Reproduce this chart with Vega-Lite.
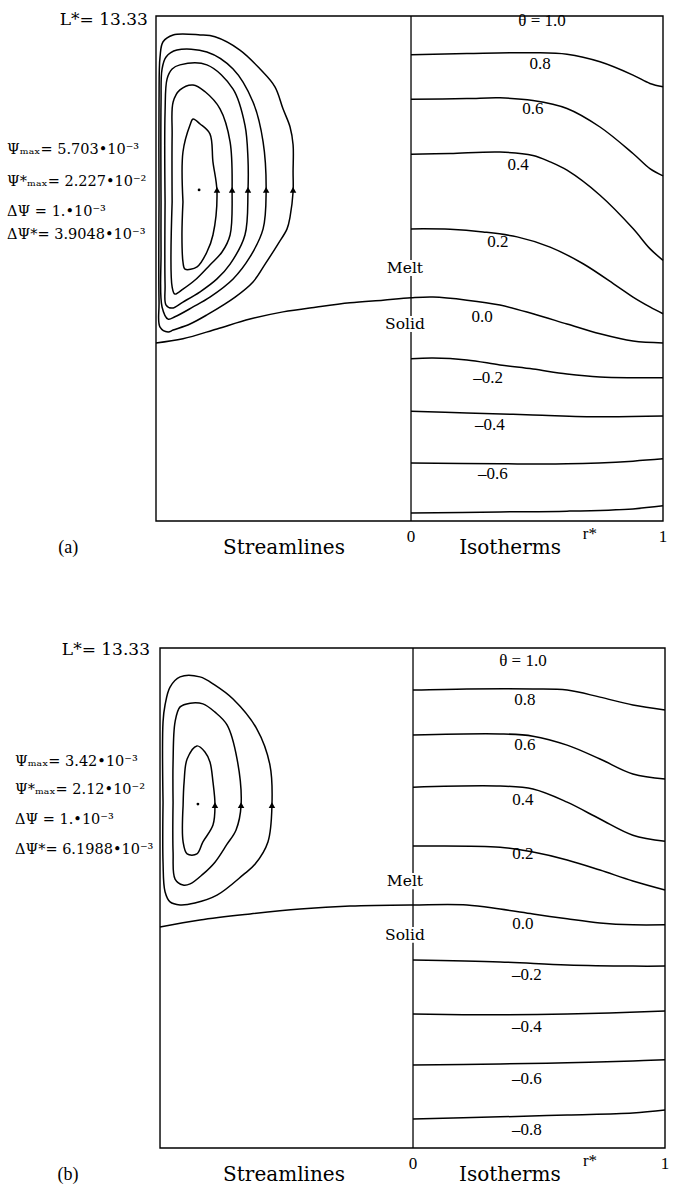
{
  "$schema": "https://vega.github.io/schema/vega-lite/v6.json",
  "padding": {"left": 7, "top": 10, "right": 0, "bottom": 0},
  "background": "white",
  "config": {"view": {"stroke": null}},
  "spacing": 127,
  "bounds": "flush",
  "datasets": {
    "frames": [
      {"p": "a", "x": -1.012, "x2": 1.0, "z": 0, "z2": 13.33},
      {"p": "b", "x": -1.008, "x2": 1.004, "z": 0, "z2": 13.33}
    ],
    "divider": [
      {"p": "a", "x": 0, "z": 0, "z2": 4.99},
      {"p": "a", "x": 0, "z": 5.41, "z2": 6.47},
      {"p": "a", "x": 0, "z": 6.89, "z2": 13.33},
      {"p": "b", "x": 0, "z": 0, "z2": 5.47},
      {"p": "b", "x": 0, "z": 5.89, "z2": 6.9},
      {"p": "b", "x": 0, "z": 7.33, "z2": 13.33}
    ],
    "curves": [
      {"p":"a","c":"s5","i":0,"x":-1.0,"z":8.42},
      {"p":"a","c":"s5","i":1,"x":-1.0,"z":11.06},
      {"p":"a","c":"s5","i":2,"x":-0.996,"z":12.25},
      {"p":"a","c":"s5","i":3,"x":-0.984,"z":12.65},
      {"p":"a","c":"s5","i":4,"x":-0.944,"z":12.83},
      {"p":"a","c":"s5","i":5,"x":-0.837,"z":12.83},
      {"p":"a","c":"s5","i":6,"x":-0.778,"z":12.78},
      {"p":"a","c":"s5","i":7,"x":-0.679,"z":12.43},
      {"p":"a","c":"s5","i":8,"x":-0.599,"z":11.93},
      {"p":"a","c":"s5","i":9,"x":-0.54,"z":11.46},
      {"p":"a","c":"s5","i":10,"x":-0.508,"z":10.88},
      {"p":"a","c":"s5","i":11,"x":-0.48,"z":10.4},
      {"p":"a","c":"s5","i":12,"x":-0.468,"z":9.93},
      {"p":"a","c":"s5","i":13,"x":-0.468,"z":9.21},
      {"p":"a","c":"s5","i":14,"x":-0.468,"z":8.69},
      {"p":"a","c":"s5","i":15,"x":-0.48,"z":8.03},
      {"p":"a","c":"s5","i":16,"x":-0.492,"z":7.71},
      {"p":"a","c":"s5","i":17,"x":-0.528,"z":7.31},
      {"p":"a","c":"s5","i":18,"x":-0.579,"z":6.78},
      {"p":"a","c":"s5","i":19,"x":-0.627,"z":6.31},
      {"p":"a","c":"s5","i":20,"x":-0.698,"z":5.91},
      {"p":"a","c":"s5","i":21,"x":-0.81,"z":5.44},
      {"p":"a","c":"s5","i":22,"x":-0.877,"z":5.2},
      {"p":"a","c":"s5","i":23,"x":-0.944,"z":5.04},
      {"p":"a","c":"s5","i":24,"x":-0.964,"z":4.99},
      {"p":"a","c":"s5","i":25,"x":-0.996,"z":5.12},
      {"p":"a","c":"s5","i":26,"x":-1.0,"z":5.78},
      {"p":"a","c":"s5","i":27,"x":-1.0,"z":8.42},

      {"p":"a","c":"s4","i":0,"x":-0.992,"z":8.42},
      {"p":"a","c":"s4","i":1,"x":-0.992,"z":11.06},
      {"p":"a","c":"s4","i":2,"x":-0.988,"z":11.93},
      {"p":"a","c":"s4","i":3,"x":-0.972,"z":12.25},
      {"p":"a","c":"s4","i":4,"x":-0.929,"z":12.43},
      {"p":"a","c":"s4","i":5,"x":-0.81,"z":12.38},
      {"p":"a","c":"s4","i":6,"x":-0.706,"z":11.93},
      {"p":"a","c":"s4","i":7,"x":-0.627,"z":11.06},
      {"p":"a","c":"s4","i":8,"x":-0.587,"z":10.01},
      {"p":"a","c":"s4","i":9,"x":-0.575,"z":8.69},
      {"p":"a","c":"s4","i":10,"x":-0.587,"z":7.71},
      {"p":"a","c":"s4","i":11,"x":-0.639,"z":6.97},
      {"p":"a","c":"s4","i":12,"x":-0.706,"z":6.39},
      {"p":"a","c":"s4","i":13,"x":-0.798,"z":5.91},
      {"p":"a","c":"s4","i":14,"x":-0.865,"z":5.65},
      {"p":"a","c":"s4","i":15,"x":-0.937,"z":5.39},
      {"p":"a","c":"s4","i":16,"x":-0.964,"z":5.33},
      {"p":"a","c":"s4","i":17,"x":-0.988,"z":5.65},
      {"p":"a","c":"s4","i":18,"x":-0.992,"z":7.1},
      {"p":"a","c":"s4","i":19,"x":-0.992,"z":8.42},

      {"p":"a","c":"s3","i":0,"x":-0.976,"z":8.42},
      {"p":"a","c":"s3","i":1,"x":-0.976,"z":10.8},
      {"p":"a","c":"s3","i":2,"x":-0.968,"z":11.67},
      {"p":"a","c":"s3","i":3,"x":-0.948,"z":11.93},
      {"p":"a","c":"s3","i":4,"x":-0.917,"z":12.04},
      {"p":"a","c":"s3","i":5,"x":-0.81,"z":12.04},
      {"p":"a","c":"s3","i":6,"x":-0.706,"z":11.4},
      {"p":"a","c":"s3","i":7,"x":-0.659,"z":10.45},
      {"p":"a","c":"s3","i":8,"x":-0.647,"z":9.56},
      {"p":"a","c":"s3","i":9,"x":-0.647,"z":8.69},
      {"p":"a","c":"s3","i":10,"x":-0.659,"z":7.55},
      {"p":"a","c":"s3","i":11,"x":-0.718,"z":6.78},
      {"p":"a","c":"s3","i":12,"x":-0.77,"z":6.39},
      {"p":"a","c":"s3","i":13,"x":-0.837,"z":6.05},
      {"p":"a","c":"s3","i":14,"x":-0.905,"z":5.78},
      {"p":"a","c":"s3","i":15,"x":-0.948,"z":5.62},
      {"p":"a","c":"s3","i":16,"x":-0.972,"z":5.7},
      {"p":"a","c":"s3","i":17,"x":-0.976,"z":6.23},
      {"p":"a","c":"s3","i":18,"x":-0.976,"z":8.42},

      {"p":"a","c":"s2","i":0,"x":-0.948,"z":8.42},
      {"p":"a","c":"s2","i":1,"x":-0.948,"z":10.19},
      {"p":"a","c":"s2","i":2,"x":-0.944,"z":11.06},
      {"p":"a","c":"s2","i":3,"x":-0.917,"z":11.38},
      {"p":"a","c":"s2","i":4,"x":-0.865,"z":11.51},
      {"p":"a","c":"s2","i":5,"x":-0.817,"z":11.33},
      {"p":"a","c":"s2","i":6,"x":-0.758,"z":10.88},
      {"p":"a","c":"s2","i":7,"x":-0.718,"z":10.01},
      {"p":"a","c":"s2","i":8,"x":-0.71,"z":8.69},
      {"p":"a","c":"s2","i":9,"x":-0.718,"z":7.55},
      {"p":"a","c":"s2","i":10,"x":-0.75,"z":7.1},
      {"p":"a","c":"s2","i":11,"x":-0.798,"z":6.76},
      {"p":"a","c":"s2","i":12,"x":-0.857,"z":6.36},
      {"p":"a","c":"s2","i":13,"x":-0.905,"z":6.12},
      {"p":"a","c":"s2","i":14,"x":-0.937,"z":5.99},
      {"p":"a","c":"s2","i":15,"x":-0.948,"z":6.18},
      {"p":"a","c":"s2","i":16,"x":-0.948,"z":8.42},

      {"p":"a","c":"s1","i":0,"x":-0.905,"z":8.42},
      {"p":"a","c":"s1","i":1,"x":-0.905,"z":9.74},
      {"p":"a","c":"s1","i":2,"x":-0.877,"z":10.45},
      {"p":"a","c":"s1","i":3,"x":-0.865,"z":10.61},
      {"p":"a","c":"s1","i":4,"x":-0.837,"z":10.48},
      {"p":"a","c":"s1","i":5,"x":-0.798,"z":10.22},
      {"p":"a","c":"s1","i":6,"x":-0.786,"z":9.48},
      {"p":"a","c":"s1","i":7,"x":-0.77,"z":8.69},
      {"p":"a","c":"s1","i":8,"x":-0.786,"z":7.55},
      {"p":"a","c":"s1","i":9,"x":-0.81,"z":7.1},
      {"p":"a","c":"s1","i":10,"x":-0.849,"z":6.71},
      {"p":"a","c":"s1","i":11,"x":-0.897,"z":6.65},
      {"p":"a","c":"s1","i":12,"x":-0.905,"z":6.84},
      {"p":"a","c":"s1","i":13,"x":-0.909,"z":7.55},
      {"p":"a","c":"s1","i":14,"x":-0.905,"z":8.42},

      {"p":"a","c":"t00","i":0,"x":-1.012,"z":4.7},
      {"p":"a","c":"t00","i":1,"x":-0.905,"z":4.81},
      {"p":"a","c":"t00","i":2,"x":-0.77,"z":5.07},
      {"p":"a","c":"t00","i":3,"x":-0.639,"z":5.33},
      {"p":"a","c":"t00","i":4,"x":-0.508,"z":5.52},
      {"p":"a","c":"t00","i":5,"x":-0.373,"z":5.65},
      {"p":"a","c":"t00","i":6,"x":-0.242,"z":5.76},
      {"p":"a","c":"t00","i":7,"x":-0.111,"z":5.83},
      {"p":"a","c":"t00","i":8,"x":0,"z":5.89},
      {"p":"a","c":"t00","i":9,"x":0.087,"z":5.91},
      {"p":"a","c":"t00","i":10,"x":0.222,"z":5.83},
      {"p":"a","c":"t00","i":11,"x":0.353,"z":5.7},
      {"p":"a","c":"t00","i":12,"x":0.484,"z":5.47},
      {"p":"a","c":"t00","i":13,"x":0.619,"z":5.2},
      {"p":"a","c":"t00","i":14,"x":0.75,"z":4.94},
      {"p":"a","c":"t00","i":15,"x":0.881,"z":4.75},
      {"p":"a","c":"t00","i":16,"x":1.0,"z":4.7},

      {"p":"a","c":"t08","i":0,"x":0,"z":12.31},
      {"p":"a","c":"t08","i":1,"x":0.222,"z":12.34},
      {"p":"a","c":"t08","i":2,"x":0.484,"z":12.36},
      {"p":"a","c":"t08","i":3,"x":0.619,"z":12.32},
      {"p":"a","c":"t08","i":4,"x":0.75,"z":12.12},
      {"p":"a","c":"t08","i":5,"x":0.881,"z":11.77},
      {"p":"a","c":"t08","i":6,"x":0.948,"z":11.55},
      {"p":"a","c":"t08","i":7,"x":1.0,"z":11.46},

      {"p":"a","c":"t06","i":0,"x":0,"z":11.13},
      {"p":"a","c":"t06","i":1,"x":0.222,"z":11.15},
      {"p":"a","c":"t06","i":2,"x":0.353,"z":11.17},
      {"p":"a","c":"t06","i":3,"x":0.484,"z":11.1},
      {"p":"a","c":"t06","i":4,"x":0.619,"z":10.89},
      {"p":"a","c":"t06","i":5,"x":0.75,"z":10.4},
      {"p":"a","c":"t06","i":6,"x":0.881,"z":9.7},
      {"p":"a","c":"t06","i":7,"x":0.948,"z":9.3},
      {"p":"a","c":"t06","i":8,"x":1.0,"z":9.11},

      {"p":"a","c":"t04","i":0,"x":0,"z":9.68},
      {"p":"a","c":"t04","i":1,"x":0.155,"z":9.7},
      {"p":"a","c":"t04","i":2,"x":0.353,"z":9.74},
      {"p":"a","c":"t04","i":3,"x":0.484,"z":9.65},
      {"p":"a","c":"t04","i":4,"x":0.552,"z":9.48},
      {"p":"a","c":"t04","i":5,"x":0.619,"z":9.26},
      {"p":"a","c":"t04","i":6,"x":0.75,"z":8.6},
      {"p":"a","c":"t04","i":7,"x":0.881,"z":7.72},
      {"p":"a","c":"t04","i":8,"x":0.948,"z":7.19},
      {"p":"a","c":"t04","i":9,"x":1.0,"z":6.88},

      {"p":"a","c":"t02","i":0,"x":0,"z":7.71},
      {"p":"a","c":"t02","i":1,"x":0.155,"z":7.7},
      {"p":"a","c":"t02","i":2,"x":0.286,"z":7.63},
      {"p":"a","c":"t02","i":3,"x":0.421,"z":7.5},
      {"p":"a","c":"t02","i":4,"x":0.552,"z":7.23},
      {"p":"a","c":"t02","i":5,"x":0.683,"z":6.79},
      {"p":"a","c":"t02","i":6,"x":0.817,"z":6.2},
      {"p":"a","c":"t02","i":7,"x":0.881,"z":5.91},
      {"p":"a","c":"t02","i":8,"x":0.948,"z":5.65},
      {"p":"a","c":"t02","i":9,"x":1.0,"z":5.47},

      {"p":"a","c":"tm02","i":0,"x":0,"z":4.28},
      {"p":"a","c":"tm02","i":1,"x":0.087,"z":4.3},
      {"p":"a","c":"tm02","i":2,"x":0.222,"z":4.25},
      {"p":"a","c":"tm02","i":3,"x":0.353,"z":4.12},
      {"p":"a","c":"tm02","i":4,"x":0.484,"z":4.01},
      {"p":"a","c":"tm02","i":5,"x":0.619,"z":3.88},
      {"p":"a","c":"tm02","i":6,"x":0.75,"z":3.8},
      {"p":"a","c":"tm02","i":7,"x":0.881,"z":3.78},
      {"p":"a","c":"tm02","i":8,"x":1.0,"z":3.78},

      {"p":"a","c":"tm04","i":0,"x":0,"z":2.9},
      {"p":"a","c":"tm04","i":1,"x":0.222,"z":2.85},
      {"p":"a","c":"tm04","i":2,"x":0.484,"z":2.8},
      {"p":"a","c":"tm04","i":3,"x":0.75,"z":2.75},
      {"p":"a","c":"tm04","i":4,"x":1.0,"z":2.77},

      {"p":"a","c":"tm06","i":0,"x":0,"z":1.53},
      {"p":"a","c":"tm06","i":1,"x":0.353,"z":1.51},
      {"p":"a","c":"tm06","i":2,"x":0.619,"z":1.51},
      {"p":"a","c":"tm06","i":3,"x":0.881,"z":1.58},
      {"p":"a","c":"tm06","i":4,"x":1.0,"z":1.64},

      {"p":"a","c":"tm08","i":0,"x":0,"z":0.21},
      {"p":"a","c":"tm08","i":1,"x":0.353,"z":0.24},
      {"p":"a","c":"tm08","i":2,"x":0.619,"z":0.26},
      {"p":"a","c":"tm08","i":3,"x":0.881,"z":0.32},
      {"p":"a","c":"tm08","i":4,"x":1.0,"z":0.4},

      {"p":"b","c":"s3","i":0,"x":-0.996,"z":9.22},
      {"p":"b","c":"s3","i":1,"x":-0.996,"z":11.36},
      {"p":"b","c":"s3","i":2,"x":-0.988,"z":11.81},
      {"p":"b","c":"s3","i":3,"x":-0.968,"z":12.29},
      {"p":"b","c":"s3","i":4,"x":-0.928,"z":12.56},
      {"p":"b","c":"s3","i":5,"x":-0.849,"z":12.56},
      {"p":"b","c":"s3","i":6,"x":-0.789,"z":12.34},
      {"p":"b","c":"s3","i":7,"x":-0.717,"z":11.97},
      {"p":"b","c":"s3","i":8,"x":-0.622,"z":11.17},
      {"p":"b","c":"s3","i":9,"x":-0.57,"z":10.21},
      {"p":"b","c":"s3","i":10,"x":-0.562,"z":9.14},
      {"p":"b","c":"s3","i":11,"x":-0.578,"z":8.16},
      {"p":"b","c":"s3","i":12,"x":-0.629,"z":7.57},
      {"p":"b","c":"s3","i":13,"x":-0.677,"z":7.28},
      {"p":"b","c":"s3","i":14,"x":-0.781,"z":6.74},
      {"p":"b","c":"s3","i":15,"x":-0.869,"z":6.53},
      {"p":"b","c":"s3","i":16,"x":-0.928,"z":6.48},
      {"p":"b","c":"s3","i":17,"x":-0.968,"z":6.56},
      {"p":"b","c":"s3","i":18,"x":-0.988,"z":6.83},
      {"p":"b","c":"s3","i":19,"x":-0.996,"z":7.62},
      {"p":"b","c":"s3","i":20,"x":-0.996,"z":9.22},

      {"p":"b","c":"s2","i":0,"x":-0.956,"z":9.22},
      {"p":"b","c":"s2","i":1,"x":-0.956,"z":10.29},
      {"p":"b","c":"s2","i":2,"x":-0.948,"z":11.36},
      {"p":"b","c":"s2","i":3,"x":-0.928,"z":11.76},
      {"p":"b","c":"s2","i":4,"x":-0.888,"z":11.86},
      {"p":"b","c":"s2","i":5,"x":-0.837,"z":11.84},
      {"p":"b","c":"s2","i":6,"x":-0.789,"z":11.62},
      {"p":"b","c":"s2","i":7,"x":-0.741,"z":11.28},
      {"p":"b","c":"s2","i":8,"x":-0.701,"z":10.37},
      {"p":"b","c":"s2","i":9,"x":-0.685,"z":9.14},
      {"p":"b","c":"s2","i":10,"x":-0.705,"z":8.48},
      {"p":"b","c":"s2","i":11,"x":-0.741,"z":8.1},
      {"p":"b","c":"s2","i":12,"x":-0.789,"z":7.62},
      {"p":"b","c":"s2","i":13,"x":-0.837,"z":7.3},
      {"p":"b","c":"s2","i":14,"x":-0.888,"z":7.04},
      {"p":"b","c":"s2","i":15,"x":-0.916,"z":7.01},
      {"p":"b","c":"s2","i":16,"x":-0.948,"z":7.17},
      {"p":"b","c":"s2","i":17,"x":-0.956,"z":7.89},
      {"p":"b","c":"s2","i":18,"x":-0.956,"z":9.22},

      {"p":"b","c":"s1","i":0,"x":-0.916,"z":9.14},
      {"p":"b","c":"s1","i":1,"x":-0.912,"z":9.76},
      {"p":"b","c":"s1","i":2,"x":-0.9,"z":10.37},
      {"p":"b","c":"s1","i":3,"x":-0.861,"z":10.72},
      {"p":"b","c":"s1","i":4,"x":-0.829,"z":10.56},
      {"p":"b","c":"s1","i":5,"x":-0.809,"z":10.29},
      {"p":"b","c":"s1","i":6,"x":-0.797,"z":9.76},
      {"p":"b","c":"s1","i":7,"x":-0.789,"z":9.14},
      {"p":"b","c":"s1","i":8,"x":-0.797,"z":8.61},
      {"p":"b","c":"s1","i":9,"x":-0.837,"z":8.16},
      {"p":"b","c":"s1","i":10,"x":-0.861,"z":7.84},
      {"p":"b","c":"s1","i":11,"x":-0.9,"z":7.84},
      {"p":"b","c":"s1","i":12,"x":-0.916,"z":8.16},
      {"p":"b","c":"s1","i":13,"x":-0.916,"z":9.14},

      {"p":"b","c":"t00","i":0,"x":-1.008,"z":5.89},
      {"p":"b","c":"t00","i":1,"x":-0.849,"z":6.08},
      {"p":"b","c":"t00","i":2,"x":-0.649,"z":6.24},
      {"p":"b","c":"t00","i":3,"x":-0.45,"z":6.37},
      {"p":"b","c":"t00","i":4,"x":-0.251,"z":6.45},
      {"p":"b","c":"t00","i":5,"x":0,"z":6.48},
      {"p":"b","c":"t00","i":6,"x":0.215,"z":6.48},
      {"p":"b","c":"t00","i":7,"x":0.347,"z":6.37},
      {"p":"b","c":"t00","i":8,"x":0.478,"z":6.24},
      {"p":"b","c":"t00","i":9,"x":0.614,"z":6.11},
      {"p":"b","c":"t00","i":10,"x":0.745,"z":6.0},
      {"p":"b","c":"t00","i":11,"x":0.876,"z":5.95},
      {"p":"b","c":"t00","i":12,"x":1.004,"z":5.95},

      {"p":"b","c":"t08","i":0,"x":0,"z":12.21},
      {"p":"b","c":"t08","i":1,"x":0.215,"z":12.24},
      {"p":"b","c":"t08","i":2,"x":0.478,"z":12.24},
      {"p":"b","c":"t08","i":3,"x":0.614,"z":12.21},
      {"p":"b","c":"t08","i":4,"x":0.745,"z":12.02},
      {"p":"b","c":"t08","i":5,"x":0.876,"z":11.81},
      {"p":"b","c":"t08","i":6,"x":1.004,"z":11.68},

      {"p":"b","c":"t06","i":0,"x":0,"z":11.01},
      {"p":"b","c":"t06","i":1,"x":0.347,"z":11.04},
      {"p":"b","c":"t06","i":2,"x":0.478,"z":10.98},
      {"p":"b","c":"t06","i":3,"x":0.614,"z":10.74},
      {"p":"b","c":"t06","i":4,"x":0.745,"z":10.37},
      {"p":"b","c":"t06","i":5,"x":0.876,"z":9.97},
      {"p":"b","c":"t06","i":6,"x":1.004,"z":9.84},

      {"p":"b","c":"t04","i":0,"x":0,"z":9.62},
      {"p":"b","c":"t04","i":1,"x":0.347,"z":9.65},
      {"p":"b","c":"t04","i":2,"x":0.478,"z":9.57},
      {"p":"b","c":"t04","i":3,"x":0.614,"z":9.22},
      {"p":"b","c":"t04","i":4,"x":0.745,"z":8.77},
      {"p":"b","c":"t04","i":5,"x":0.876,"z":8.34},
      {"p":"b","c":"t04","i":6,"x":1.004,"z":8.18},

      {"p":"b","c":"t02","i":0,"x":0,"z":8.05},
      {"p":"b","c":"t02","i":1,"x":0.347,"z":8.02},
      {"p":"b","c":"t02","i":2,"x":0.478,"z":7.89},
      {"p":"b","c":"t02","i":3,"x":0.614,"z":7.68},
      {"p":"b","c":"t02","i":4,"x":0.745,"z":7.41},
      {"p":"b","c":"t02","i":5,"x":0.876,"z":7.12},
      {"p":"b","c":"t02","i":6,"x":1.004,"z":6.88},

      {"p":"b","c":"tm02","i":0,"x":0,"z":5.01},
      {"p":"b","c":"tm02","i":1,"x":0.347,"z":4.96},
      {"p":"b","c":"tm02","i":2,"x":0.614,"z":4.88},
      {"p":"b","c":"tm02","i":3,"x":0.876,"z":4.85},
      {"p":"b","c":"tm02","i":4,"x":1.004,"z":4.85},

      {"p":"b","c":"tm04","i":0,"x":0,"z":3.57},
      {"p":"b","c":"tm04","i":1,"x":0.347,"z":3.55},
      {"p":"b","c":"tm04","i":2,"x":0.614,"z":3.57},
      {"p":"b","c":"tm04","i":3,"x":1.004,"z":3.65},

      {"p":"b","c":"tm06","i":0,"x":0,"z":2.21},
      {"p":"b","c":"tm06","i":1,"x":0.347,"z":2.24},
      {"p":"b","c":"tm06","i":2,"x":0.614,"z":2.27},
      {"p":"b","c":"tm06","i":3,"x":0.876,"z":2.32},
      {"p":"b","c":"tm06","i":4,"x":1.004,"z":2.35},

      {"p":"b","c":"tm08","i":0,"x":0,"z":0.77},
      {"p":"b","c":"tm08","i":1,"x":0.347,"z":0.83},
      {"p":"b","c":"tm08","i":2,"x":0.614,"z":0.88},
      {"p":"b","c":"tm08","i":3,"x":0.876,"z":0.93},
      {"p":"b","c":"tm08","i":4,"x":1.004,"z":1.01}
    ],
    "arrows": [
      {"p":"a","x":-0.77,"z":8.74},
      {"p":"a","x":-0.71,"z":8.74},
      {"p":"a","x":-0.647,"z":8.74},
      {"p":"a","x":-0.575,"z":8.74},
      {"p":"a","x":-0.468,"z":8.74},
      {"p":"b","x":-0.789,"z":9.14},
      {"p":"b","x":-0.685,"z":9.14},
      {"p":"b","x":-0.562,"z":9.14}
    ],
    "centers": [
      {"p":"a","x":-0.841,"z":8.74},
      {"p":"b","x":-0.857,"z":9.17}
    ],
    "labels": [
      {"p":"a","k":"iso","x":0.52,"z":13.2,"t":"θ = 1.0"},
      {"p":"a","k":"iso","x":0.512,"z":12.05,"t":"0.8"},
      {"p":"a","k":"iso","x":0.484,"z":10.87,"t":"0.6"},
      {"p":"a","k":"iso","x":0.425,"z":9.39,"t":"0.4"},
      {"p":"a","k":"iso","x":0.345,"z":7.37,"t":"0.2"},
      {"p":"a","k":"iso","x":0.282,"z":5.39,"t":"0.0"},
      {"p":"a","k":"iso","x":0.306,"z":3.78,"t":"–0.2"},
      {"p":"a","k":"iso","x":0.313,"z":2.53,"t":"–0.4"},
      {"p":"a","k":"iso","x":0.325,"z":1.24,"t":"–0.6"},
      {"p":"a","k":"phase","x":-0.024,"z":6.68,"t":"Melt"},
      {"p":"a","k":"phase","x":-0.024,"z":5.2,"t":"Solid"},
      {"p":"a","k":"note","x":-1.603,"z":9.79,"t":"Ψₘₐₓ= 5.703•10⁻³"},
      {"p":"a","k":"note","x":-1.603,"z":8.95,"t":"Ψ*ₘₐₓ= 2.227•10⁻²"},
      {"p":"a","k":"note","x":-1.603,"z":8.16,"t":"ΔΨ = 1.•10⁻³"},
      {"p":"a","k":"note","x":-1.603,"z":7.55,"t":"ΔΨ*= 3.9048•10⁻³"},
      {"p":"a","k":"len","x":-1.044,"z":13.23,"t":"L*= 13.33"},
      {"p":"a","k":"tick","x":0,"z":-0.42,"t":"0"},
      {"p":"a","k":"tick","x":0.71,"z":-0.34,"t":"r*"},
      {"p":"a","k":"tick","x":1.0,"z":-0.42,"t":"1"},
      {"p":"a","k":"title","x":-0.504,"z":-0.71,"t":"Streamlines"},
      {"p":"a","k":"title","x":0.393,"z":-0.71,"t":"Isotherms"},
      {"p":"a","k":"tag","x":-1.36,"z":-0.71,"t":"(a)"},

      {"p":"b","k":"iso","x":0.438,"z":12.98,"t":"θ = 1.0"},
      {"p":"b","k":"iso","x":0.446,"z":11.94,"t":"0.8"},
      {"p":"b","k":"iso","x":0.446,"z":10.74,"t":"0.6"},
      {"p":"b","k":"iso","x":0.438,"z":9.28,"t":"0.4"},
      {"p":"b","k":"iso","x":0.438,"z":7.84,"t":"0.2"},
      {"p":"b","k":"iso","x":0.438,"z":5.97,"t":"0.0"},
      {"p":"b","k":"iso","x":0.454,"z":4.61,"t":"–0.2"},
      {"p":"b","k":"iso","x":0.454,"z":3.23,"t":"–0.4"},
      {"p":"b","k":"iso","x":0.454,"z":1.84,"t":"–0.6"},
      {"p":"b","k":"iso","x":0.454,"z":0.48,"t":"–0.8"},
      {"p":"b","k":"phase","x":-0.032,"z":7.12,"t":"Melt"},
      {"p":"b","k":"phase","x":-0.032,"z":5.68,"t":"Solid"},
      {"p":"b","k":"note","x":-1.586,"z":10.29,"t":"Ψₘₐₓ= 3.42•10⁻³"},
      {"p":"b","k":"note","x":-1.586,"z":9.54,"t":"Ψ*ₘₐₓ= 2.12•10⁻²"},
      {"p":"b","k":"note","x":-1.586,"z":8.74,"t":"ΔΨ = 1.•10⁻³"},
      {"p":"b","k":"note","x":-1.586,"z":7.94,"t":"ΔΨ*= 6.1988•10⁻³"},
      {"p":"b","k":"len","x":-1.048,"z":13.28,"t":"L*= 13.33"},
      {"p":"b","k":"tick","x":0,"z":-0.43,"t":"0"},
      {"p":"b","k":"tick","x":0.705,"z":-0.35,"t":"r*"},
      {"p":"b","k":"tick","x":1.004,"z":-0.43,"t":"1"},
      {"p":"b","k":"title","x":-0.514,"z":-0.72,"t":"Streamlines"},
      {"p":"b","k":"title","x":0.386,"z":-0.72,"t":"Isotherms"},
      {"p":"b","k":"tag","x":-1.375,"z":-0.72,"t":"(b)"}
    ]
  },
  "vconcat": [
    {
      "width": 507,
      "height": 505,
      "encoding": {
        "x": {"field": "x", "type": "quantitative", "scale": {"domain": [-1.012, 1.0], "nice": false, "zero": false}, "axis": null},
        "y": {"field": "z", "type": "quantitative", "scale": {"domain": [0, 13.33], "nice": false, "zero": false}, "axis": null}
      },
      "layer": [
        {"data": {"name": "frames"}, "transform": [{"filter": "datum.p == 'a'"}], "mark": {"type": "rect", "filled": false, "stroke": "black", "strokeWidth": 1.4}, "encoding": {"x2": {"field": "x2"}, "y2": {"field": "z2"}}},
        {"data": {"name": "divider"}, "transform": [{"filter": "datum.p == 'a'"}], "mark": {"type": "rule", "color": "black", "strokeWidth": 1.3}, "encoding": {"y2": {"field": "z2"}}},
        {"data": {"name": "curves"}, "transform": [{"filter": "datum.p == 'a'"}], "mark": {"type": "line", "interpolate": "catmull-rom", "color": "black", "strokeWidth": 1.5}, "encoding": {"detail": {"field": "c", "type": "nominal"}, "order": {"field": "i", "type": "quantitative"}}},
        {"data": {"name": "arrows"}, "transform": [{"filter": "datum.p == 'a'"}], "mark": {"type": "point", "shape": "triangle-up", "filled": true, "color": "black", "size": 42, "opacity": 1}},
        {"data": {"name": "centers"}, "transform": [{"filter": "datum.p == 'a'"}], "mark": {"type": "point", "shape": "circle", "filled": true, "color": "black", "size": 8, "opacity": 1}},
        {"data": {"name": "labels"}, "transform": [{"filter": "datum.p == 'a' && datum.k == 'iso'"}], "mark": {"type": "text", "font": "Liberation Serif", "fontSize": 17, "color": "black", "baseline": "middle", "align": "center"}, "encoding": {"text": {"field": "t"}}},
        {"data": {"name": "labels"}, "transform": [{"filter": "datum.p == 'a' && datum.k == 'phase'"}], "mark": {"type": "text", "font": "DejaVu Serif", "fontSize": 15.5, "color": "black", "baseline": "middle", "align": "center"}, "encoding": {"text": {"field": "t"}}},
        {"data": {"name": "labels"}, "transform": [{"filter": "datum.p == 'a' && datum.k == 'note'"}], "mark": {"type": "text", "font": "DejaVu Serif", "fontSize": 14.5, "color": "black", "baseline": "middle", "align": "left"}, "encoding": {"text": {"field": "t"}}},
        {"data": {"name": "labels"}, "transform": [{"filter": "datum.p == 'a' && datum.k == 'len'"}], "mark": {"type": "text", "font": "DejaVu Serif", "fontSize": 17, "color": "black", "baseline": "middle", "align": "right"}, "encoding": {"text": {"field": "t"}}},
        {"data": {"name": "labels"}, "transform": [{"filter": "datum.p == 'a' && datum.k == 'tick'"}], "mark": {"type": "text", "font": "Liberation Serif", "fontSize": 17, "color": "black", "baseline": "middle", "align": "center"}, "encoding": {"text": {"field": "t"}}},
        {"data": {"name": "labels"}, "transform": [{"filter": "datum.p == 'a' && datum.k == 'title'"}], "mark": {"type": "text", "font": "DejaVu Serif", "fontSize": 20, "color": "black", "baseline": "middle", "align": "center"}, "encoding": {"text": {"field": "t"}}},
        {"data": {"name": "labels"}, "transform": [{"filter": "datum.p == 'a' && datum.k == 'tag'"}], "mark": {"type": "text", "font": "Liberation Serif", "fontSize": 18, "color": "black", "baseline": "middle", "align": "center"}, "encoding": {"text": {"field": "t"}}}
      ]
    },
    {
      "width": 509,
      "height": 500,
      "encoding": {
        "x": {"field": "x", "type": "quantitative", "scale": {"domain": [-1.024, 1.004], "nice": false, "zero": false}, "axis": null},
        "y": {"field": "z", "type": "quantitative", "scale": {"domain": [0, 13.33], "nice": false, "zero": false}, "axis": null}
      },
      "layer": [
        {"data": {"name": "frames"}, "transform": [{"filter": "datum.p == 'b'"}], "mark": {"type": "rect", "filled": false, "stroke": "black", "strokeWidth": 1.4}, "encoding": {"x2": {"field": "x2"}, "y2": {"field": "z2"}}},
        {"data": {"name": "divider"}, "transform": [{"filter": "datum.p == 'b'"}], "mark": {"type": "rule", "color": "black", "strokeWidth": 1.3}, "encoding": {"y2": {"field": "z2"}}},
        {"data": {"name": "curves"}, "transform": [{"filter": "datum.p == 'b'"}], "mark": {"type": "line", "interpolate": "catmull-rom", "color": "black", "strokeWidth": 1.5}, "encoding": {"detail": {"field": "c", "type": "nominal"}, "order": {"field": "i", "type": "quantitative"}}},
        {"data": {"name": "arrows"}, "transform": [{"filter": "datum.p == 'b'"}], "mark": {"type": "point", "shape": "triangle-up", "filled": true, "color": "black", "size": 42, "opacity": 1}},
        {"data": {"name": "centers"}, "transform": [{"filter": "datum.p == 'b'"}], "mark": {"type": "point", "shape": "circle", "filled": true, "color": "black", "size": 8, "opacity": 1}},
        {"data": {"name": "labels"}, "transform": [{"filter": "datum.p == 'b' && datum.k == 'iso'"}], "mark": {"type": "text", "font": "Liberation Serif", "fontSize": 17, "color": "black", "baseline": "middle", "align": "center"}, "encoding": {"text": {"field": "t"}}},
        {"data": {"name": "labels"}, "transform": [{"filter": "datum.p == 'b' && datum.k == 'phase'"}], "mark": {"type": "text", "font": "DejaVu Serif", "fontSize": 15.5, "color": "black", "baseline": "middle", "align": "center"}, "encoding": {"text": {"field": "t"}}},
        {"data": {"name": "labels"}, "transform": [{"filter": "datum.p == 'b' && datum.k == 'note'"}], "mark": {"type": "text", "font": "DejaVu Serif", "fontSize": 14.5, "color": "black", "baseline": "middle", "align": "left"}, "encoding": {"text": {"field": "t"}}},
        {"data": {"name": "labels"}, "transform": [{"filter": "datum.p == 'b' && datum.k == 'len'"}], "mark": {"type": "text", "font": "DejaVu Serif", "fontSize": 17, "color": "black", "baseline": "middle", "align": "right"}, "encoding": {"text": {"field": "t"}}},
        {"data": {"name": "labels"}, "transform": [{"filter": "datum.p == 'b' && datum.k == 'tick'"}], "mark": {"type": "text", "font": "Liberation Serif", "fontSize": 17, "color": "black", "baseline": "middle", "align": "center"}, "encoding": {"text": {"field": "t"}}},
        {"data": {"name": "labels"}, "transform": [{"filter": "datum.p == 'b' && datum.k == 'title'"}], "mark": {"type": "text", "font": "DejaVu Serif", "fontSize": 20, "color": "black", "baseline": "middle", "align": "center"}, "encoding": {"text": {"field": "t"}}},
        {"data": {"name": "labels"}, "transform": [{"filter": "datum.p == 'b' && datum.k == 'tag'"}], "mark": {"type": "text", "font": "Liberation Serif", "fontSize": 18, "color": "black", "baseline": "middle", "align": "center"}, "encoding": {"text": {"field": "t"}}}
      ]
    }
  ]
}
